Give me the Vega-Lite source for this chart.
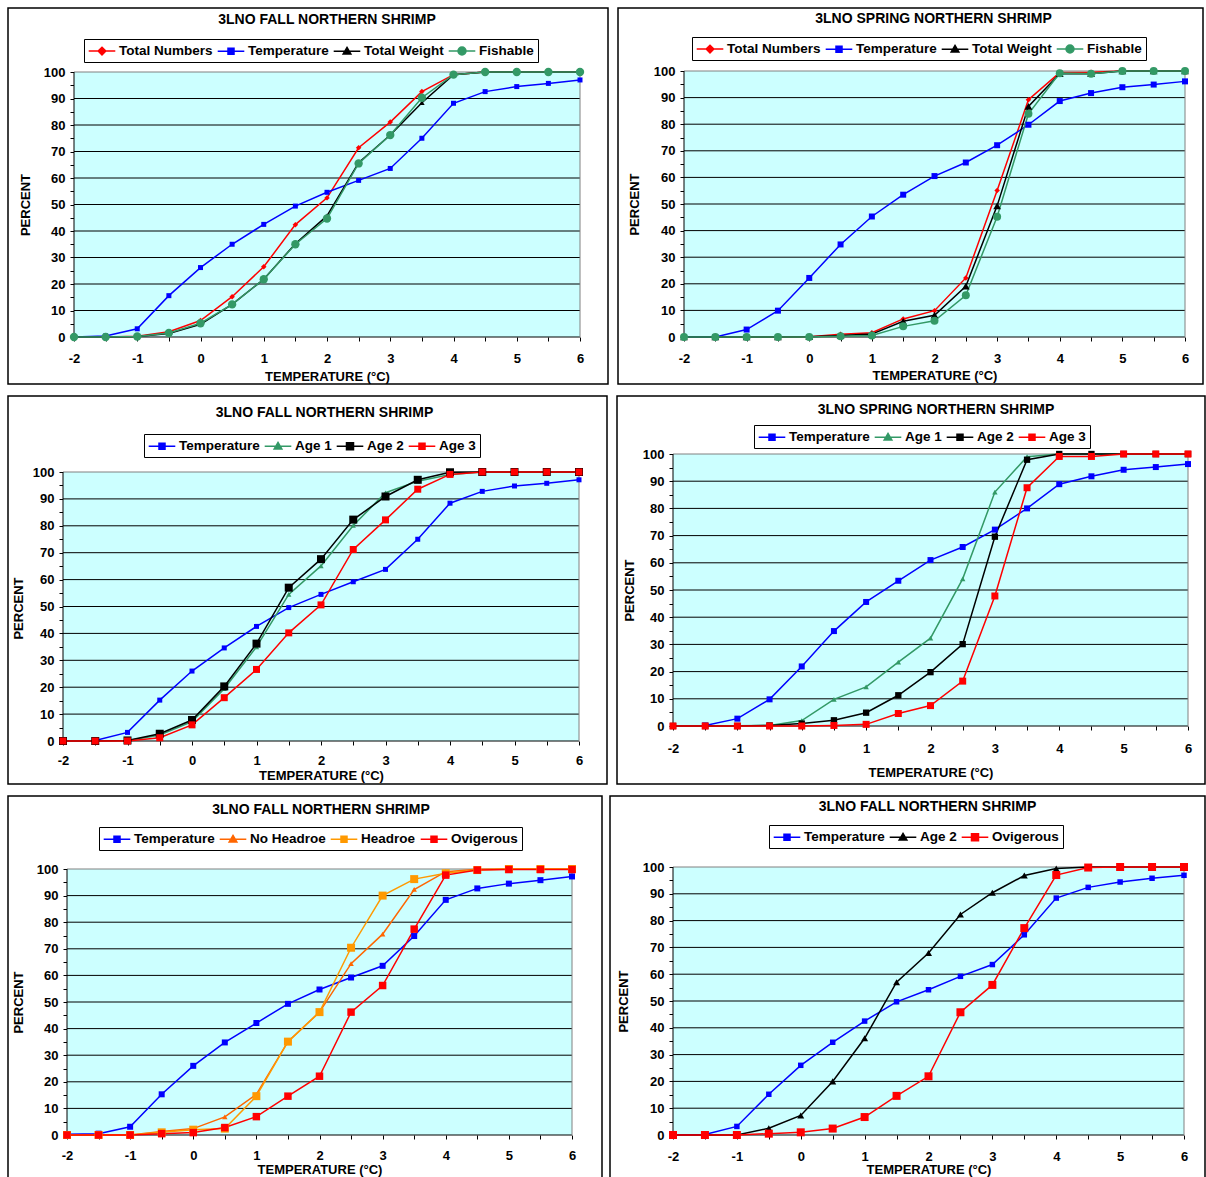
{
"$schema": "https://vega.github.io/schema/vega-lite/v6.json",
"background": "#FFFFFF",
"padding": {"left": 7, "top": 7, "right": 0, "bottom": 0},
"config": {
  "view": {"stroke": "#000000", "strokeWidth": 1.5, "fill": "#FFFFFF"},
  "title": {"font": "Liberation Sans", "fontSize": 14, "fontWeight": "bold", "color": "#000000", "anchor": "middle", "frame": "group"},
  "axis": {"domain": false, "grid": false, "ticks": true, "tickColor": "#000000", "tickSize": 4, "tickWidth": 1,
    "labelFont": "Liberation Sans", "labelFontSize": 13, "labelFontWeight": "bold", "labelColor": "#000000",
    "titleFont": "Liberation Sans", "titleFontSize": 13, "titleFontWeight": "bold", "titleColor": "#000000",
    "labelFlush": false, "labelOverlap": false, "titleAlign": "center", "titleBaseline": "middle", "tickCount": 60},
  "axisY": {"labelPadding": 5, "titleAngle": 270},
  "axisX": {"titleAngle": 0},
  "legend": {"orient": "none", "direction": "horizontal", "columns": 4, "labelFont": "Liberation Sans", "labelFontSize": 13.5,
    "labelFontWeight": "bold", "labelColor": "#000000", "symbolSize": 196, "symbolStrokeWidth": 1.5, "strokeColor": "#000000",
    "fillColor": "#FFFFFF", "padding": 4, "columnPadding": 1, "labelOffset": 9, "symbolOffset": 6, "rowPadding": 0,
    "symbolOpacity": 1, "labelLimit": 200}
},
"datasets": {
  "grid": [{"g": 0}, {"g": 10}, {"g": 20}, {"g": 30}, {"g": 40}, {"g": 50}, {"g": 60}, {"g": 70}, {"g": 80}, {"g": 90}],
  "p1": [
    {"t": -2, "Total Numbers": 0, "Temperature": 0, "Total Weight": 0, "Fishable": 0},
    {"t": -1.5, "Total Numbers": 0, "Temperature": 0.4, "Total Weight": 0, "Fishable": 0},
    {"t": -1, "Total Numbers": 0.3, "Temperature": 3.1, "Total Weight": 0.2, "Fishable": 0.2},
    {"t": -0.5, "Total Numbers": 2.0, "Temperature": 15.6, "Total Weight": 1.3, "Fishable": 1.5},
    {"t": 0, "Total Numbers": 6.2, "Temperature": 26.2, "Total Weight": 4.8, "Fishable": 5.2},
    {"t": 0.5, "Total Numbers": 15.2, "Temperature": 35.0, "Total Weight": 12.3, "Fishable": 12.3},
    {"t": 1, "Total Numbers": 26.5, "Temperature": 42.5, "Total Weight": 21.8, "Fishable": 21.8},
    {"t": 1.5, "Total Numbers": 42.4, "Temperature": 49.4, "Total Weight": 35.2, "Fishable": 35.0},
    {"t": 2, "Total Numbers": 52.5, "Temperature": 54.6, "Total Weight": 45.7, "Fishable": 44.7},
    {"t": 2.5, "Total Numbers": 71.4, "Temperature": 59.1, "Total Weight": 65.8, "Fishable": 65.5},
    {"t": 3, "Total Numbers": 81.1, "Temperature": 63.6, "Total Weight": 76.2, "Fishable": 76.2},
    {"t": 3.5, "Total Numbers": 92.6, "Temperature": 75.0, "Total Weight": 88.4, "Fishable": 90.3},
    {"t": 4, "Total Numbers": 99.0, "Temperature": 88.2, "Total Weight": 99.0, "Fishable": 99.0},
    {"t": 4.5, "Total Numbers": 100, "Temperature": 92.6, "Total Weight": 100, "Fishable": 100},
    {"t": 5, "Total Numbers": 100, "Temperature": 94.5, "Total Weight": 100, "Fishable": 100},
    {"t": 5.5, "Total Numbers": 100, "Temperature": 95.7, "Total Weight": 100, "Fishable": 100},
    {"t": 6, "Total Numbers": 100, "Temperature": 97.0, "Total Weight": 100, "Fishable": 100}
  ],
  "p2": [
    {"t": -2, "Total Numbers": 0, "Temperature": 0, "Total Weight": 0, "Fishable": 0},
    {"t": -1.5, "Total Numbers": 0, "Temperature": 0, "Total Weight": 0, "Fishable": 0},
    {"t": -1, "Total Numbers": 0, "Temperature": 2.8, "Total Weight": 0, "Fishable": 0},
    {"t": -0.5, "Total Numbers": 0, "Temperature": 9.9, "Total Weight": 0, "Fishable": 0},
    {"t": 0, "Total Numbers": 0.1, "Temperature": 22.2, "Total Weight": 0.1, "Fishable": 0},
    {"t": 0.5, "Total Numbers": 1.0, "Temperature": 34.8, "Total Weight": 0.6, "Fishable": 0.3},
    {"t": 1, "Total Numbers": 1.6, "Temperature": 45.3, "Total Weight": 1.1, "Fishable": 0.6},
    {"t": 1.5, "Total Numbers": 6.8, "Temperature": 53.5, "Total Weight": 5.9, "Fishable": 4.0},
    {"t": 2, "Total Numbers": 9.9, "Temperature": 60.5, "Total Weight": 8.2, "Fishable": 6.1},
    {"t": 2.5, "Total Numbers": 22.2, "Temperature": 65.6, "Total Weight": 19.1, "Fishable": 15.7},
    {"t": 3, "Total Numbers": 55.1, "Temperature": 72.1, "Total Weight": 49.3, "Fishable": 45.2},
    {"t": 3.5, "Total Numbers": 89.2, "Temperature": 79.8, "Total Weight": 86.7, "Fishable": 83.9},
    {"t": 4, "Total Numbers": 99.4, "Temperature": 88.7, "Total Weight": 99.0, "Fishable": 99.2},
    {"t": 4.5, "Total Numbers": 99.5, "Temperature": 91.7, "Total Weight": 99.0, "Fishable": 99.0},
    {"t": 5, "Total Numbers": 100, "Temperature": 93.9, "Total Weight": 100, "Fishable": 100},
    {"t": 5.5, "Total Numbers": 100, "Temperature": 94.9, "Total Weight": 100, "Fishable": 100},
    {"t": 6, "Total Numbers": 100, "Temperature": 96.1, "Total Weight": 100, "Fishable": 100}
  ],
  "p3": [
    {"t": -2, "Temperature": 0, "Age 1": 0, "Age 2": 0, "Age 3": 0},
    {"t": -1.5, "Temperature": 0.2, "Age 1": 0, "Age 2": 0, "Age 3": 0},
    {"t": -1, "Temperature": 3.2, "Age 1": 0.1, "Age 2": 0.2, "Age 3": 0},
    {"t": -0.5, "Temperature": 15.2, "Age 1": 2.2, "Age 2": 2.7, "Age 3": 1.2},
    {"t": 0, "Temperature": 26.0, "Age 1": 7.2, "Age 2": 7.8, "Age 3": 6.0},
    {"t": 0.5, "Temperature": 34.6, "Age 1": 19.4, "Age 2": 20.3, "Age 3": 16.1},
    {"t": 1, "Temperature": 42.6, "Age 1": 35.0, "Age 2": 36.2, "Age 3": 26.6},
    {"t": 1.5, "Temperature": 49.6, "Age 1": 54.5, "Age 2": 57.0, "Age 3": 40.2},
    {"t": 2, "Temperature": 54.5, "Age 1": 65.1, "Age 2": 67.6, "Age 3": 50.6},
    {"t": 2.5, "Temperature": 59.2, "Age 1": 80.1, "Age 2": 82.3, "Age 3": 71.2},
    {"t": 3, "Temperature": 63.8, "Age 1": 92.3, "Age 2": 90.9, "Age 3": 82.2},
    {"t": 3.5, "Temperature": 75.0, "Age 1": 96.6, "Age 2": 97.1, "Age 3": 93.6},
    {"t": 4, "Temperature": 88.4, "Age 1": 99.1, "Age 2": 99.9, "Age 3": 99.1},
    {"t": 4.5, "Temperature": 92.8, "Age 1": 100, "Age 2": 100, "Age 3": 100},
    {"t": 5, "Temperature": 94.8, "Age 1": 100, "Age 2": 100, "Age 3": 100},
    {"t": 5.5, "Temperature": 95.8, "Age 1": 100, "Age 2": 100, "Age 3": 100},
    {"t": 6, "Temperature": 97.1, "Age 1": 100, "Age 2": 100, "Age 3": 100}
  ],
  "p4": [
    {"t": -2, "Temperature": 0, "Age 1": 0, "Age 2": 0, "Age 3": 0},
    {"t": -1.5, "Temperature": 0.2, "Age 1": 0, "Age 2": 0, "Age 3": 0},
    {"t": -1, "Temperature": 2.7, "Age 1": 0.1, "Age 2": 0, "Age 3": 0},
    {"t": -0.5, "Temperature": 9.8, "Age 1": 0.2, "Age 2": 0.2, "Age 3": 0},
    {"t": 0, "Temperature": 21.9, "Age 1": 2.0, "Age 2": 0.9, "Age 3": 0},
    {"t": 0.5, "Temperature": 34.9, "Age 1": 9.8, "Age 2": 2.1, "Age 3": 0.2},
    {"t": 1, "Temperature": 45.6, "Age 1": 14.4, "Age 2": 4.9, "Age 3": 0.6},
    {"t": 1.5, "Temperature": 53.4, "Age 1": 23.5, "Age 2": 11.3, "Age 3": 4.6},
    {"t": 2, "Temperature": 61.0, "Age 1": 32.3, "Age 2": 19.8, "Age 3": 7.5},
    {"t": 2.5, "Temperature": 65.8, "Age 1": 54.1, "Age 2": 30.1, "Age 3": 16.5},
    {"t": 3, "Temperature": 72.2, "Age 1": 86.0, "Age 2": 69.6, "Age 3": 47.8},
    {"t": 3.5, "Temperature": 80.0, "Age 1": 99.0, "Age 2": 97.9, "Age 3": 87.6},
    {"t": 4, "Temperature": 88.9, "Age 1": 100, "Age 2": 100, "Age 3": 99.1},
    {"t": 4.5, "Temperature": 91.8, "Age 1": 100, "Age 2": 100, "Age 3": 99.1},
    {"t": 5, "Temperature": 94.2, "Age 1": 100, "Age 2": 100, "Age 3": 100},
    {"t": 5.5, "Temperature": 95.2, "Age 1": 100, "Age 2": 100, "Age 3": 100},
    {"t": 6, "Temperature": 96.3, "Age 1": 100, "Age 2": 100, "Age 3": 100}
  ],
  "p5": [
    {"t": -2, "Temperature": 0.3, "No Headroe": 0, "Headroe": 0, "Ovigerous": 0},
    {"t": -1.5, "Temperature": 0.5, "No Headroe": 0, "Headroe": 0, "Ovigerous": 0},
    {"t": -1, "Temperature": 3.1, "No Headroe": 0, "Headroe": 0, "Ovigerous": 0},
    {"t": -0.5, "Temperature": 15.3, "No Headroe": 1.3, "Headroe": 1.0, "Ovigerous": 0.5},
    {"t": 0, "Temperature": 26.0, "No Headroe": 2.4, "Headroe": 2.0, "Ovigerous": 0.9},
    {"t": 0.5, "Temperature": 34.8, "No Headroe": 6.8, "Headroe": 2.4, "Ovigerous": 2.8},
    {"t": 1, "Temperature": 42.1, "No Headroe": 15.3, "Headroe": 14.6, "Ovigerous": 6.9},
    {"t": 1.5, "Temperature": 49.3, "No Headroe": 35.1, "Headroe": 35.1, "Ovigerous": 14.6},
    {"t": 2, "Temperature": 54.7, "No Headroe": 46.2, "Headroe": 46.2, "Ovigerous": 22.1},
    {"t": 2.5, "Temperature": 59.2, "No Headroe": 64.4, "Headroe": 70.4, "Ovigerous": 46.2},
    {"t": 3, "Temperature": 63.6, "No Headroe": 75.5, "Headroe": 90.0, "Ovigerous": 56.2},
    {"t": 3.5, "Temperature": 74.8, "No Headroe": 92.3, "Headroe": 96.2, "Ovigerous": 77.4},
    {"t": 4, "Temperature": 88.4, "No Headroe": 99.0, "Headroe": 98.4, "Ovigerous": 97.7},
    {"t": 4.5, "Temperature": 92.7, "No Headroe": 99.9, "Headroe": 99.6, "Ovigerous": 99.6},
    {"t": 5, "Temperature": 94.5, "No Headroe": 100, "Headroe": 100, "Ovigerous": 99.8},
    {"t": 5.5, "Temperature": 95.8, "No Headroe": 100, "Headroe": 100, "Ovigerous": 99.8},
    {"t": 6, "Temperature": 97.2, "No Headroe": 100, "Headroe": 100, "Ovigerous": 99.8}
  ],
  "p6": [
    {"t": -2, "Temperature": 0, "Age 2": 0, "Ovigerous": 0},
    {"t": -1.5, "Temperature": 0.2, "Age 2": 0, "Ovigerous": 0},
    {"t": -1, "Temperature": 3.2, "Age 2": 0, "Ovigerous": 0},
    {"t": -0.5, "Temperature": 15.2, "Age 2": 2.5, "Ovigerous": 0.5},
    {"t": 0, "Temperature": 26.0, "Age 2": 7.3, "Ovigerous": 1.0},
    {"t": 0.5, "Temperature": 34.6, "Age 2": 20.0, "Ovigerous": 2.4},
    {"t": 1, "Temperature": 42.5, "Age 2": 36.1, "Ovigerous": 6.7},
    {"t": 1.5, "Temperature": 49.7, "Age 2": 57.0, "Ovigerous": 14.6},
    {"t": 2, "Temperature": 54.2, "Age 2": 67.9, "Ovigerous": 21.9},
    {"t": 2.5, "Temperature": 59.2, "Age 2": 82.3, "Ovigerous": 45.8},
    {"t": 3, "Temperature": 63.6, "Age 2": 90.4, "Ovigerous": 56.0},
    {"t": 3.5, "Temperature": 74.7, "Age 2": 96.8, "Ovigerous": 77.2},
    {"t": 4, "Temperature": 88.4, "Age 2": 99.4, "Ovigerous": 97.0},
    {"t": 4.5, "Temperature": 92.4, "Age 2": 100, "Ovigerous": 99.8},
    {"t": 5, "Temperature": 94.4, "Age 2": 100, "Ovigerous": 100},
    {"t": 5.5, "Temperature": 95.8, "Age 2": 100, "Ovigerous": 100},
    {"t": 6, "Temperature": 96.9, "Age 2": 100, "Ovigerous": 100}
  ]
},
"vconcat": [
 {"hconcat": [
  {"width": 600, "height": 376,
   "title": {"text": "3LNO FALL NORTHERN SHRIMP", "offset": -19, "dx": 19},
   "resolve": {"scale": {"color": "independent", "shape": "independent", "fill": "independent", "stroke": "independent"}},
   "layer": [
    {"data": {"values": [{}]}, "mark": {"type": "rect", "fill": "#CCFFFF"},
     "encoding": {"x": {"datum": -2, "type": "quantitative"}, "x2": {"datum": 6}, "y": {"datum": 0, "type": "quantitative"}, "y2": {"datum": 100}}},
    {"data": {"name": "grid"}, "mark": {"type": "rule", "color": "#000000", "strokeWidth": 1},
     "encoding": {"y": {"field": "g", "type": "quantitative"}, "x": {"datum": -2, "type": "quantitative"}, "x2": {"datum": 6}}},
    {"data": {"values": [{}]}, "mark": {"type": "rule", "color": "#808080", "strokeWidth": 1},
     "encoding": {"y": {"datum": 100, "type": "quantitative"}, "x": {"datum": -2, "type": "quantitative"}, "x2": {"datum": 6}}},
    {"data": {"values": [{}]}, "mark": {"type": "rule", "color": "#808080", "strokeWidth": 1},
     "encoding": {"x": {"datum": 6, "type": "quantitative"}, "y": {"datum": 0, "type": "quantitative"}, "y2": {"datum": 100}}},
    {"data": {"values": [{}]}, "mark": {"type": "rule", "color": "#000000", "strokeWidth": 1},
     "encoding": {"x": {"datum": -2, "type": "quantitative"}, "y": {"datum": 0, "type": "quantitative"}, "y2": {"datum": 100}}},
    {"data": {"name": "p1"}, "transform": [{"fold": ["Total Numbers", "Temperature", "Total Weight", "Fishable"], "as": ["series", "pct"]}],
     "mark": {"type": "line", "strokeWidth": 1.5},
     "encoding": {
      "x": {"field": "t", "type": "quantitative", "scale": {"domain": [-2, 6], "range": [66, 572], "nice": false, "zero": false},
        "axis": {"orient": "bottom", "offset": -47, "values": [-2,-1.5,-1,-0.5,0,0.5,1,1.5,2,2.5,3,3.5,4,4.5,5,5.5,6], "tickCount": 60,
          "labelExpr": "datum.value % 1 === 0 ? '' + datum.value : ''", "labelPadding": 11, "labelOverlap": false,
          "title": "TEMPERATURE (°C)", "titleX": 319, "titleY": 39}},
      "y": {"field": "pct", "type": "quantitative", "scale": {"domain": [0, 100], "range": [329, 64], "nice": false, "zero": false},
        "axis": {"orient": "left", "offset": -66, "values": [0,5,10,15,20,25,30,35,40,45,50,55,60,65,70,75,80,85,90,95,100], "tickCount": 60,
          "labelExpr": "datum.value % 10 === 0 ? '' + datum.value : ''", "labelOverlap": false,
          "title": "PERCENT", "titleX": -49, "titleY": 196.5}},
      "color": {"field": "series", "type": "nominal", "scale": {"domain": ["Total Numbers", "Temperature", "Total Weight", "Fishable"], "range": ["#FF0000", "#0000FF", "#000000", "#339966"]}, "legend": null}}},
    {"data": {"name": "p1"}, "transform": [{"fold": ["Total Numbers", "Temperature", "Total Weight", "Fishable"], "as": ["series", "pct"]}],
     "mark": {"type": "point", "filled": true, "opacity": 1},
     "encoding": {
      "x": {"field": "t", "type": "quantitative"}, "y": {"field": "pct", "type": "quantitative"},
      "color": {"field": "series", "type": "nominal", "scale": {"domain": ["Total Numbers", "Temperature", "Total Weight", "Fishable"], "range": ["#FF0000", "#0000FF", "#000000", "#339966"]}, "legend": null},
      "shape": {"field": "series", "type": "nominal", "scale": {"domain": ["Total Numbers", "Temperature", "Total Weight", "Fishable"], "range": ["diamond", "square", "triangle-up", "circle"]}, "legend": null},
      "size": {"condition": [{"test": "datum.series === 'Fishable'", "value": 70}, {"test": "datum.series === 'Total Weight'", "value": 30}, {"test": "datum.series === 'Total Numbers'", "value": 30}], "value": 25}}},
    {"data": {"name": "p1"}, "transform": [{"fold": ["Total Numbers", "Temperature", "Total Weight", "Fishable"], "as": ["series", "pct"]}, {"filter": "false"}],
     "mark": {"type": "point", "filled": true, "opacity": 1, "strokeWidth": 1.5},
     "encoding": {
      "x": {"field": "t", "type": "quantitative"}, "y": {"field": "pct", "type": "quantitative"},
      "fill": {"field": "series", "type": "nominal", "scale": {"domain": ["Total Numbers", "Temperature", "Total Weight", "Fishable"], "range": ["#FF0000", "#0000FF", "#000000", "#339966"]}, "legend": {"title": null, "legendX": 76, "legendY": 31}},
      "stroke": {"field": "series", "type": "nominal", "scale": {"domain": ["Total Numbers", "Temperature", "Total Weight", "Fishable"], "range": ["#FF0000", "#0000FF", "#000000", "#339966"]}, "legend": {"title": null, "legendX": 76, "legendY": 31}},
      "shape": {"field": "series", "type": "nominal", "scale": {"domain": ["Total Numbers", "Temperature", "Total Weight", "Fishable"], "range": ["M-1.9,0H1.9M0,-0.55L0.55,0L0,0.55L-0.55,0Z", "M-1.9,0H1.9M-0.43,-0.43H0.43V0.43H-0.43Z", "M-1.9,0H1.9M0,-0.55L0.55,0.4L-0.55,0.4Z", "M-1.9,0H1.9M-0.57,0A0.57,0.57,0,1,0,0.57,0A0.57,0.57,0,1,0,-0.57,0Z"]}, "legend": {"title": null, "legendX": 76, "legendY": 31}}}}
   ]},
  {"width": 585, "height": 376,
   "title": {"text": "3LNO SPRING NORTHERN SHRIMP", "offset": -18, "dx": 23},
   "resolve": {"scale": {"color": "independent", "shape": "independent", "fill": "independent", "stroke": "independent"}},
   "layer": [
    {"data": {"values": [{}]}, "mark": {"type": "rect", "fill": "#CCFFFF"},
     "encoding": {"x": {"datum": -2, "type": "quantitative"}, "x2": {"datum": 6}, "y": {"datum": 0, "type": "quantitative"}, "y2": {"datum": 100}}},
    {"data": {"name": "grid"}, "mark": {"type": "rule", "color": "#000000", "strokeWidth": 1},
     "encoding": {"y": {"field": "g", "type": "quantitative"}, "x": {"datum": -2, "type": "quantitative"}, "x2": {"datum": 6}}},
    {"data": {"values": [{}]}, "mark": {"type": "rule", "color": "#808080", "strokeWidth": 1},
     "encoding": {"y": {"datum": 100, "type": "quantitative"}, "x": {"datum": -2, "type": "quantitative"}, "x2": {"datum": 6}}},
    {"data": {"values": [{}]}, "mark": {"type": "rule", "color": "#808080", "strokeWidth": 1},
     "encoding": {"x": {"datum": 6, "type": "quantitative"}, "y": {"datum": 0, "type": "quantitative"}, "y2": {"datum": 100}}},
    {"data": {"values": [{}]}, "mark": {"type": "rule", "color": "#000000", "strokeWidth": 1},
     "encoding": {"x": {"datum": -2, "type": "quantitative"}, "y": {"datum": 0, "type": "quantitative"}, "y2": {"datum": 100}}},
    {"data": {"name": "p2"}, "transform": [{"fold": ["Total Numbers", "Temperature", "Total Weight", "Fishable"], "as": ["series", "pct"]}],
     "mark": {"type": "line", "strokeWidth": 1.5},
     "encoding": {
      "x": {"field": "t", "type": "quantitative", "scale": {"domain": [-2, 6], "range": [66, 567], "nice": false, "zero": false},
        "axis": {"orient": "bottom", "offset": -47, "values": [-2,-1.5,-1,-0.5,0,0.5,1,1.5,2,2.5,3,3.5,4,4.5,5,5.5,6], "tickCount": 60,
          "labelExpr": "datum.value % 1 === 0 ? '' + datum.value : ''", "labelPadding": 11, "labelOverlap": false,
          "title": "TEMPERATURE (°C)", "titleX": 316.5, "titleY": 38}},
      "y": {"field": "pct", "type": "quantitative", "scale": {"domain": [0, 100], "range": [329, 63], "nice": false, "zero": false},
        "axis": {"orient": "left", "offset": -66, "values": [0,5,10,15,20,25,30,35,40,45,50,55,60,65,70,75,80,85,90,95,100], "tickCount": 60,
          "labelExpr": "datum.value % 10 === 0 ? '' + datum.value : ''", "labelOverlap": false,
          "title": "PERCENT", "titleX": -50, "titleY": 196}},
      "color": {"field": "series", "type": "nominal", "scale": {"domain": ["Total Numbers", "Temperature", "Total Weight", "Fishable"], "range": ["#FF0000", "#0000FF", "#000000", "#339966"]}, "legend": null}}},
    {"data": {"name": "p2"}, "transform": [{"fold": ["Total Numbers", "Temperature", "Total Weight", "Fishable"], "as": ["series", "pct"]}],
     "mark": {"type": "point", "filled": true, "opacity": 1},
     "encoding": {
      "x": {"field": "t", "type": "quantitative"}, "y": {"field": "pct", "type": "quantitative"},
      "color": {"field": "series", "type": "nominal", "scale": {"domain": ["Total Numbers", "Temperature", "Total Weight", "Fishable"], "range": ["#FF0000", "#0000FF", "#000000", "#339966"]}, "legend": null},
      "shape": {"field": "series", "type": "nominal", "scale": {"domain": ["Total Numbers", "Temperature", "Total Weight", "Fishable"], "range": ["diamond", "square", "triangle-up", "circle"]}, "legend": null},
      "size": {"condition": [{"test": "datum.series === 'Fishable'", "value": 64}, {"test": "datum.series === 'Total Weight'", "value": 60}, {"test": "datum.series === 'Temperature'", "value": 36}], "value": 30}}},
    {"data": {"name": "p2"}, "transform": [{"fold": ["Total Numbers", "Temperature", "Total Weight", "Fishable"], "as": ["series", "pct"]}, {"filter": "false"}],
     "mark": {"type": "point", "filled": true, "opacity": 1, "strokeWidth": 1.5},
     "encoding": {
      "x": {"field": "t", "type": "quantitative"}, "y": {"field": "pct", "type": "quantitative"},
      "fill": {"field": "series", "type": "nominal", "scale": {"domain": ["Total Numbers", "Temperature", "Total Weight", "Fishable"], "range": ["#FF0000", "#0000FF", "#000000", "#339966"]}, "legend": {"title": null, "legendX": 74, "legendY": 29}},
      "stroke": {"field": "series", "type": "nominal", "scale": {"domain": ["Total Numbers", "Temperature", "Total Weight", "Fishable"], "range": ["#FF0000", "#0000FF", "#000000", "#339966"]}, "legend": {"title": null, "legendX": 74, "legendY": 29}},
      "shape": {"field": "series", "type": "nominal", "scale": {"domain": ["Total Numbers", "Temperature", "Total Weight", "Fishable"], "range": ["M-1.9,0H1.9M0,-0.55L0.55,0L0,0.55L-0.55,0Z", "M-1.9,0H1.9M-0.43,-0.43H0.43V0.43H-0.43Z", "M-1.9,0H1.9M0,-0.55L0.55,0.4L-0.55,0.4Z", "M-1.9,0H1.9M-0.57,0A0.57,0.57,0,1,0,0.57,0A0.57,0.57,0,1,0,-0.57,0Z"]}, "legend": {"title": null, "legendX": 74, "legendY": 29}}}}
   ]}
 ], "spacing": 10, "bounds": "flush"},
 {"hconcat": [
  {"width": 599, "height": 388,
   "title": {"text": "3LNO FALL NORTHERN SHRIMP", "offset": -24, "dx": 17},
   "resolve": {"scale": {"color": "independent", "shape": "independent", "fill": "independent", "stroke": "independent"}},
   "layer": [
    {"data": {"values": [{}]}, "mark": {"type": "rect", "fill": "#CCFFFF"},
     "encoding": {"x": {"datum": -2, "type": "quantitative"}, "x2": {"datum": 6}, "y": {"datum": 0, "type": "quantitative"}, "y2": {"datum": 100}}},
    {"data": {"name": "grid"}, "mark": {"type": "rule", "color": "#000000", "strokeWidth": 1},
     "encoding": {"y": {"field": "g", "type": "quantitative"}, "x": {"datum": -2, "type": "quantitative"}, "x2": {"datum": 6}}},
    {"data": {"values": [{}]}, "mark": {"type": "rule", "color": "#808080", "strokeWidth": 1},
     "encoding": {"y": {"datum": 100, "type": "quantitative"}, "x": {"datum": -2, "type": "quantitative"}, "x2": {"datum": 6}}},
    {"data": {"values": [{}]}, "mark": {"type": "rule", "color": "#808080", "strokeWidth": 1},
     "encoding": {"x": {"datum": 6, "type": "quantitative"}, "y": {"datum": 0, "type": "quantitative"}, "y2": {"datum": 100}}},
    {"data": {"values": [{}]}, "mark": {"type": "rule", "color": "#000000", "strokeWidth": 1},
     "encoding": {"x": {"datum": -2, "type": "quantitative"}, "y": {"datum": 0, "type": "quantitative"}, "y2": {"datum": 100}}},
    {"data": {"name": "p3"}, "transform": [{"fold": ["Temperature", "Age 1", "Age 2", "Age 3"], "as": ["series", "pct"]}],
     "mark": {"type": "line", "strokeWidth": 1.5},
     "encoding": {
      "x": {"field": "t", "type": "quantitative", "scale": {"domain": [-2, 6], "range": [55, 571], "nice": false, "zero": false},
        "axis": {"orient": "bottom", "offset": -43, "values": [-2,-1.5,-1,-0.5,0,0.5,1,1.5,2,2.5,3,3.5,4,4.5,5,5.5,6], "tickCount": 60,
          "labelExpr": "datum.value % 1 === 0 ? '' + datum.value : ''", "labelPadding": 9, "labelOverlap": false,
          "title": "TEMPERATURE (°C)", "titleX": 313, "titleY": 34}},
      "y": {"field": "pct", "type": "quantitative", "scale": {"domain": [0, 100], "range": [345, 76], "nice": false, "zero": false},
        "axis": {"orient": "left", "offset": -55, "values": [0,5,10,15,20,25,30,35,40,45,50,55,60,65,70,75,80,85,90,95,100], "tickCount": 60,
          "labelExpr": "datum.value % 10 === 0 ? '' + datum.value : ''", "labelOverlap": false,
          "title": "PERCENT", "titleX": -45, "titleY": 212}},
      "color": {"field": "series", "type": "nominal", "scale": {"domain": ["Temperature", "Age 1", "Age 2", "Age 3"], "range": ["#0000FF", "#339966", "#000000", "#FF0000"]}, "legend": null}}},
    {"data": {"name": "p3"}, "transform": [{"fold": ["Temperature", "Age 1", "Age 2", "Age 3"], "as": ["series", "pct"]}],
     "mark": {"type": "point", "filled": true, "opacity": 1},
     "encoding": {
      "x": {"field": "t", "type": "quantitative"}, "y": {"field": "pct", "type": "quantitative"},
      "color": {"field": "series", "type": "nominal", "scale": {"domain": ["Temperature", "Age 1", "Age 2", "Age 3"], "range": ["#0000FF", "#339966", "#000000", "#FF0000"]}, "legend": null},
      "shape": {"field": "series", "type": "nominal", "scale": {"domain": ["Temperature", "Age 1", "Age 2", "Age 3"], "range": ["square", "triangle-up", "square", "square"]}, "legend": null},
      "size": {"condition": [{"test": "datum.series === 'Age 2'", "value": 64}, {"test": "datum.series === 'Age 3'", "value": 49}, {"test": "datum.series === 'Age 1'", "value": 28}], "value": 25}}},
    {"data": {"name": "p3"}, "transform": [{"fold": ["Temperature", "Age 1", "Age 2", "Age 3"], "as": ["series", "pct"]}, {"filter": "false"}],
     "mark": {"type": "point", "filled": true, "opacity": 1, "strokeWidth": 1.5},
     "encoding": {
      "x": {"field": "t", "type": "quantitative"}, "y": {"field": "pct", "type": "quantitative"},
      "fill": {"field": "series", "type": "nominal", "scale": {"domain": ["Temperature", "Age 1", "Age 2", "Age 3"], "range": ["#0000FF", "#339966", "#000000", "#FF0000"]}, "legend": {"title": null, "legendX": 136, "legendY": 38}},
      "stroke": {"field": "series", "type": "nominal", "scale": {"domain": ["Temperature", "Age 1", "Age 2", "Age 3"], "range": ["#0000FF", "#339966", "#000000", "#FF0000"]}, "legend": {"title": null, "legendX": 136, "legendY": 38}},
      "shape": {"field": "series", "type": "nominal", "scale": {"domain": ["Temperature", "Age 1", "Age 2", "Age 3"], "range": ["M-1.9,0H1.9M-0.43,-0.43H0.43V0.43H-0.43Z", "M-1.9,0H1.9M0,-0.55L0.55,0.4L-0.55,0.4Z", "M-1.9,0H1.9M-0.5,-0.5H0.5V0.5H-0.5Z", "M-1.9,0H1.9M-0.43,-0.43H0.43V0.43H-0.43Z"]}, "legend": {"title": null, "legendX": 136, "legendY": 38}}}}
   ]},
  {"width": 588, "height": 388,
   "title": {"text": "3LNO SPRING NORTHERN SHRIMP", "offset": -21, "dx": 25},
   "resolve": {"scale": {"color": "independent", "shape": "independent", "fill": "independent", "stroke": "independent"}},
   "layer": [
    {"data": {"values": [{}]}, "mark": {"type": "rect", "fill": "#CCFFFF"},
     "encoding": {"x": {"datum": -2, "type": "quantitative"}, "x2": {"datum": 6}, "y": {"datum": 0, "type": "quantitative"}, "y2": {"datum": 100}}},
    {"data": {"name": "grid"}, "mark": {"type": "rule", "color": "#000000", "strokeWidth": 1},
     "encoding": {"y": {"field": "g", "type": "quantitative"}, "x": {"datum": -2, "type": "quantitative"}, "x2": {"datum": 6}}},
    {"data": {"values": [{}]}, "mark": {"type": "rule", "color": "#808080", "strokeWidth": 1},
     "encoding": {"y": {"datum": 100, "type": "quantitative"}, "x": {"datum": -2, "type": "quantitative"}, "x2": {"datum": 6}}},
    {"data": {"values": [{}]}, "mark": {"type": "rule", "color": "#808080", "strokeWidth": 1},
     "encoding": {"x": {"datum": 6, "type": "quantitative"}, "y": {"datum": 0, "type": "quantitative"}, "y2": {"datum": 100}}},
    {"data": {"values": [{}]}, "mark": {"type": "rule", "color": "#000000", "strokeWidth": 1},
     "encoding": {"x": {"datum": -2, "type": "quantitative"}, "y": {"datum": 0, "type": "quantitative"}, "y2": {"datum": 100}}},
    {"data": {"name": "p4"}, "transform": [{"fold": ["Temperature", "Age 1", "Age 2", "Age 3"], "as": ["series", "pct"]}],
     "mark": {"type": "line", "strokeWidth": 1.5},
     "encoding": {
      "x": {"field": "t", "type": "quantitative", "scale": {"domain": [-2, 6], "range": [56, 571], "nice": false, "zero": false},
        "axis": {"orient": "bottom", "offset": -58, "values": [-2,-1.5,-1,-0.5,0,0.5,1,1.5,2,2.5,3,3.5,4,4.5,5,5.5,6], "tickCount": 60,
          "labelExpr": "datum.value % 1 === 0 ? '' + datum.value : ''", "labelPadding": 12, "labelOverlap": false,
          "title": "TEMPERATURE (°C)", "titleX": 313.5, "titleY": 46}},
      "y": {"field": "pct", "type": "quantitative", "scale": {"domain": [0, 100], "range": [330, 58], "nice": false, "zero": false},
        "axis": {"orient": "left", "offset": -56, "values": [0,5,10,15,20,25,30,35,40,45,50,55,60,65,70,75,80,85,90,95,100], "tickCount": 60,
          "labelExpr": "datum.value % 10 === 0 ? '' + datum.value : ''", "labelOverlap": false,
          "title": "PERCENT", "titleX": -44, "titleY": 194}},
      "color": {"field": "series", "type": "nominal", "scale": {"domain": ["Temperature", "Age 1", "Age 2", "Age 3"], "range": ["#0000FF", "#339966", "#000000", "#FF0000"]}, "legend": null}}},
    {"data": {"name": "p4"}, "transform": [{"fold": ["Temperature", "Age 1", "Age 2", "Age 3"], "as": ["series", "pct"]}],
     "mark": {"type": "point", "filled": true, "opacity": 1},
     "encoding": {
      "x": {"field": "t", "type": "quantitative"}, "y": {"field": "pct", "type": "quantitative"},
      "color": {"field": "series", "type": "nominal", "scale": {"domain": ["Temperature", "Age 1", "Age 2", "Age 3"], "range": ["#0000FF", "#339966", "#000000", "#FF0000"]}, "legend": null},
      "shape": {"field": "series", "type": "nominal", "scale": {"domain": ["Temperature", "Age 1", "Age 2", "Age 3"], "range": ["square", "triangle-up", "square", "square"]}, "legend": null},
      "size": {"condition": [{"test": "datum.series === 'Age 3'", "value": 49}, {"test": "datum.series === 'Age 2'", "value": 40}, {"test": "datum.series === 'Age 1'", "value": 30}], "value": 36}}},
    {"data": {"name": "p4"}, "transform": [{"fold": ["Temperature", "Age 1", "Age 2", "Age 3"], "as": ["series", "pct"]}, {"filter": "false"}],
     "mark": {"type": "point", "filled": true, "opacity": 1, "strokeWidth": 1.5},
     "encoding": {
      "x": {"field": "t", "type": "quantitative"}, "y": {"field": "pct", "type": "quantitative"},
      "fill": {"field": "series", "type": "nominal", "scale": {"domain": ["Temperature", "Age 1", "Age 2", "Age 3"], "range": ["#0000FF", "#339966", "#000000", "#FF0000"]}, "legend": {"title": null, "legendX": 137, "legendY": 29}},
      "stroke": {"field": "series", "type": "nominal", "scale": {"domain": ["Temperature", "Age 1", "Age 2", "Age 3"], "range": ["#0000FF", "#339966", "#000000", "#FF0000"]}, "legend": {"title": null, "legendX": 137, "legendY": 29}},
      "shape": {"field": "series", "type": "nominal", "scale": {"domain": ["Temperature", "Age 1", "Age 2", "Age 3"], "range": ["M-1.9,0H1.9M-0.43,-0.43H0.43V0.43H-0.43Z", "M-1.9,0H1.9M0,-0.55L0.55,0.4L-0.55,0.4Z", "M-1.9,0H1.9M-0.43,-0.43H0.43V0.43H-0.43Z", "M-1.9,0H1.9M-0.43,-0.43H0.43V0.43H-0.43Z"]}, "legend": {"title": null, "legendX": 137, "legendY": 29}}}}
   ]}
 ], "spacing": 10, "bounds": "flush"},
 {"hconcat": [
  {"width": 594, "height": 385,
   "title": {"text": "3LNO FALL NORTHERN SHRIMP", "offset": -21, "dx": 16},
   "resolve": {"scale": {"color": "independent", "shape": "independent", "fill": "independent", "stroke": "independent"}},
   "layer": [
    {"data": {"values": [{}]}, "mark": {"type": "rect", "fill": "#CCFFFF"},
     "encoding": {"x": {"datum": -2, "type": "quantitative"}, "x2": {"datum": 6}, "y": {"datum": 0, "type": "quantitative"}, "y2": {"datum": 100}}},
    {"data": {"name": "grid"}, "mark": {"type": "rule", "color": "#000000", "strokeWidth": 1},
     "encoding": {"y": {"field": "g", "type": "quantitative"}, "x": {"datum": -2, "type": "quantitative"}, "x2": {"datum": 6}}},
    {"data": {"values": [{}]}, "mark": {"type": "rule", "color": "#808080", "strokeWidth": 1},
     "encoding": {"y": {"datum": 100, "type": "quantitative"}, "x": {"datum": -2, "type": "quantitative"}, "x2": {"datum": 6}}},
    {"data": {"values": [{}]}, "mark": {"type": "rule", "color": "#808080", "strokeWidth": 1},
     "encoding": {"x": {"datum": 6, "type": "quantitative"}, "y": {"datum": 0, "type": "quantitative"}, "y2": {"datum": 100}}},
    {"data": {"values": [{}]}, "mark": {"type": "rule", "color": "#000000", "strokeWidth": 1},
     "encoding": {"x": {"datum": -2, "type": "quantitative"}, "y": {"datum": 0, "type": "quantitative"}, "y2": {"datum": 100}}},
    {"data": {"name": "p5"}, "transform": [{"fold": ["Temperature", "No Headroe", "Headroe", "Ovigerous"], "as": ["series", "pct"]}],
     "mark": {"type": "line", "strokeWidth": 1.5},
     "encoding": {
      "x": {"field": "t", "type": "quantitative", "scale": {"domain": [-2, 6], "range": [59, 564], "nice": false, "zero": false},
        "axis": {"orient": "bottom", "offset": -46, "values": [-2,-1.5,-1,-0.5,0,0.5,1,1.5,2,2.5,3,3.5,4,4.5,5,5.5,6], "tickCount": 60,
          "labelExpr": "datum.value % 1 === 0 ? '' + datum.value : ''", "labelPadding": 10, "labelOverlap": false,
          "title": "TEMPERATURE (°C)", "titleX": 311.5, "titleY": 34}},
      "y": {"field": "pct", "type": "quantitative", "scale": {"domain": [0, 100], "range": [339, 73], "nice": false, "zero": false},
        "axis": {"orient": "left", "offset": -59, "values": [0,5,10,15,20,25,30,35,40,45,50,55,60,65,70,75,80,85,90,95,100], "tickCount": 60,
          "labelExpr": "datum.value % 10 === 0 ? '' + datum.value : ''", "labelOverlap": false,
          "title": "PERCENT", "titleX": -49, "titleY": 206}},
      "color": {"field": "series", "type": "nominal", "scale": {"domain": ["Temperature", "No Headroe", "Headroe", "Ovigerous"], "range": ["#0000FF", "#FF6600", "#FF9900", "#FF0000"]}, "legend": null}}},
    {"data": {"name": "p5"}, "transform": [{"fold": ["Temperature", "No Headroe", "Headroe", "Ovigerous"], "as": ["series", "pct"]}],
     "mark": {"type": "point", "filled": true, "opacity": 1},
     "encoding": {
      "x": {"field": "t", "type": "quantitative"}, "y": {"field": "pct", "type": "quantitative"},
      "color": {"field": "series", "type": "nominal", "scale": {"domain": ["Temperature", "No Headroe", "Headroe", "Ovigerous"], "range": ["#0000FF", "#FF6600", "#FF9900", "#FF0000"]}, "legend": null},
      "shape": {"field": "series", "type": "nominal", "scale": {"domain": ["Temperature", "No Headroe", "Headroe", "Ovigerous"], "range": ["square", "triangle-up", "square", "square"]}, "legend": null},
      "size": {"condition": [{"test": "datum.series === 'Headroe'", "value": 64}, {"test": "datum.series === 'Ovigerous'", "value": 56}, {"test": "datum.series === 'No Headroe'", "value": 30}], "value": 36}}},
    {"data": {"name": "p5"}, "transform": [{"fold": ["Temperature", "No Headroe", "Headroe", "Ovigerous"], "as": ["series", "pct"]}, {"filter": "false"}],
     "mark": {"type": "point", "filled": true, "opacity": 1, "strokeWidth": 1.5},
     "encoding": {
      "x": {"field": "t", "type": "quantitative"}, "y": {"field": "pct", "type": "quantitative"},
      "fill": {"field": "series", "type": "nominal", "scale": {"domain": ["Temperature", "No Headroe", "Headroe", "Ovigerous"], "range": ["#0000FF", "#FF6600", "#FF9900", "#FF0000"]}, "legend": {"title": null, "legendX": 91, "legendY": 31}},
      "stroke": {"field": "series", "type": "nominal", "scale": {"domain": ["Temperature", "No Headroe", "Headroe", "Ovigerous"], "range": ["#0000FF", "#FF6600", "#FF9900", "#FF0000"]}, "legend": {"title": null, "legendX": 91, "legendY": 31}},
      "shape": {"field": "series", "type": "nominal", "scale": {"domain": ["Temperature", "No Headroe", "Headroe", "Ovigerous"], "range": ["M-1.9,0H1.9M-0.43,-0.43H0.43V0.43H-0.43Z", "M-1.9,0H1.9M0,-0.55L0.55,0.4L-0.55,0.4Z", "M-1.9,0H1.9M-0.43,-0.43H0.43V0.43H-0.43Z", "M-1.9,0H1.9M-0.43,-0.43H0.43V0.43H-0.43Z"]}, "legend": {"title": null, "legendX": 91, "legendY": 31}}}}
   ]},
  {"width": 595, "height": 385,
   "title": {"text": "3LNO FALL NORTHERN SHRIMP", "offset": -18, "dx": 20},
   "resolve": {"scale": {"color": "independent", "shape": "independent", "fill": "independent", "stroke": "independent"}},
   "layer": [
    {"data": {"values": [{}]}, "mark": {"type": "rect", "fill": "#CCFFFF"},
     "encoding": {"x": {"datum": -2, "type": "quantitative"}, "x2": {"datum": 6}, "y": {"datum": 0, "type": "quantitative"}, "y2": {"datum": 100}}},
    {"data": {"name": "grid"}, "mark": {"type": "rule", "color": "#000000", "strokeWidth": 1},
     "encoding": {"y": {"field": "g", "type": "quantitative"}, "x": {"datum": -2, "type": "quantitative"}, "x2": {"datum": 6}}},
    {"data": {"values": [{}]}, "mark": {"type": "rule", "color": "#808080", "strokeWidth": 1},
     "encoding": {"y": {"datum": 100, "type": "quantitative"}, "x": {"datum": -2, "type": "quantitative"}, "x2": {"datum": 6}}},
    {"data": {"values": [{}]}, "mark": {"type": "rule", "color": "#808080", "strokeWidth": 1},
     "encoding": {"x": {"datum": 6, "type": "quantitative"}, "y": {"datum": 0, "type": "quantitative"}, "y2": {"datum": 100}}},
    {"data": {"values": [{}]}, "mark": {"type": "rule", "color": "#000000", "strokeWidth": 1},
     "encoding": {"x": {"datum": -2, "type": "quantitative"}, "y": {"datum": 0, "type": "quantitative"}, "y2": {"datum": 100}}},
    {"data": {"name": "p6"}, "transform": [{"fold": ["Temperature", "Age 2", "Ovigerous"], "as": ["series", "pct"]}],
     "mark": {"type": "line", "strokeWidth": 1.5},
     "encoding": {
      "x": {"field": "t", "type": "quantitative", "scale": {"domain": [-2, 6], "range": [63, 574], "nice": false, "zero": false},
        "axis": {"orient": "bottom", "offset": -46, "values": [-2,-1.5,-1,-0.5,0,0.5,1,1.5,2,2.5,3,3.5,4,4.5,5,5.5,6], "tickCount": 60,
          "labelExpr": "datum.value % 1 === 0 ? '' + datum.value : ''", "labelPadding": 11, "labelOverlap": false,
          "title": "TEMPERATURE (°C)", "titleX": 318.5, "titleY": 34}},
      "y": {"field": "pct", "type": "quantitative", "scale": {"domain": [0, 100], "range": [339, 71], "nice": false, "zero": false},
        "axis": {"orient": "left", "offset": -63, "values": [0,5,10,15,20,25,30,35,40,45,50,55,60,65,70,75,80,85,90,95,100], "tickCount": 60,
          "labelExpr": "datum.value % 10 === 0 ? '' + datum.value : ''", "labelOverlap": false,
          "title": "PERCENT", "titleX": -50, "titleY": 205}},
      "color": {"field": "series", "type": "nominal", "scale": {"domain": ["Temperature", "Age 2", "Ovigerous"], "range": ["#0000FF", "#000000", "#FF0000"]}, "legend": null}}},
    {"data": {"name": "p6"}, "transform": [{"fold": ["Temperature", "Age 2", "Ovigerous"], "as": ["series", "pct"]}],
     "mark": {"type": "point", "filled": true, "opacity": 1},
     "encoding": {
      "x": {"field": "t", "type": "quantitative"}, "y": {"field": "pct", "type": "quantitative"},
      "color": {"field": "series", "type": "nominal", "scale": {"domain": ["Temperature", "Age 2", "Ovigerous"], "range": ["#0000FF", "#000000", "#FF0000"]}, "legend": null},
      "shape": {"field": "series", "type": "nominal", "scale": {"domain": ["Temperature", "Age 2", "Ovigerous"], "range": ["square", "triangle-up", "square"]}, "legend": null},
      "size": {"condition": [{"test": "datum.series === 'Ovigerous'", "value": 64}, {"test": "datum.series === 'Age 2'", "value": 49}], "value": 30}}},
    {"data": {"name": "p6"}, "transform": [{"fold": ["Temperature", "Age 2", "Ovigerous"], "as": ["series", "pct"]}, {"filter": "false"}],
     "mark": {"type": "point", "filled": true, "opacity": 1, "strokeWidth": 1.5},
     "encoding": {
      "x": {"field": "t", "type": "quantitative"}, "y": {"field": "pct", "type": "quantitative"},
      "fill": {"field": "series", "type": "nominal", "scale": {"domain": ["Temperature", "Age 2", "Ovigerous"], "range": ["#0000FF", "#000000", "#FF0000"]}, "legend": {"title": null, "legendX": 159, "legendY": 29}},
      "stroke": {"field": "series", "type": "nominal", "scale": {"domain": ["Temperature", "Age 2", "Ovigerous"], "range": ["#0000FF", "#000000", "#FF0000"]}, "legend": {"title": null, "legendX": 159, "legendY": 29}},
      "shape": {"field": "series", "type": "nominal", "scale": {"domain": ["Temperature", "Age 2", "Ovigerous"], "range": ["M-1.9,0H1.9M-0.43,-0.43H0.43V0.43H-0.43Z", "M-1.9,0H1.9M0,-0.55L0.55,0.4L-0.55,0.4Z", "M-1.9,0H1.9M-0.5,-0.5H0.5V0.5H-0.5Z"]}, "legend": {"title": null, "legendX": 159, "legendY": 29}}}}
   ]}
 ], "spacing": 8, "bounds": "flush"}
],
"spacing": 10
}
